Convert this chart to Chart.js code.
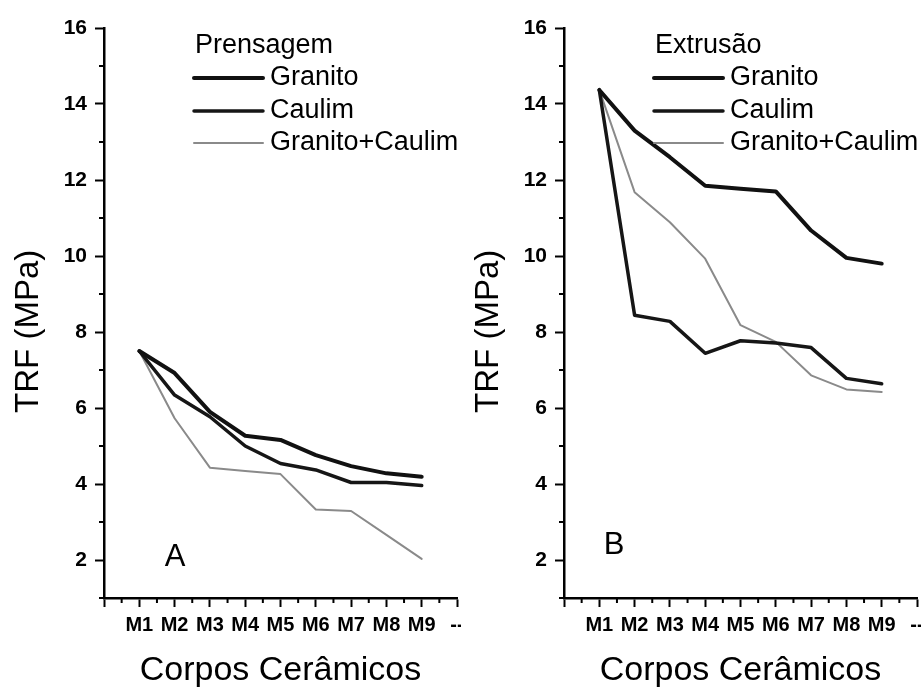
<!DOCTYPE html>
<html>
<head>
<meta charset="utf-8">
<script src="https://cdn.jsdelivr.net/npm/chart.js@4.4.0/dist/chart.umd.min.js"></script>
<style>
  body { margin: 0; background: #fff; overflow: hidden; }
  #painelA, #painelB { position: absolute; top: 0; }
  #painelA { left: 0; }
  #painelB { left: 460px; }
</style>
</head>
<body>
<canvas id="painelA" width="461" height="689"></canvas>
<canvas id="painelB" width="461" height="689"></canvas>
<script>
var categorias = ["", "M1", "M2", "M3", "M4", "M5", "M6", "M7", "M8", "M9", "--"];
var ticksY = [2, 4, 6, 8, 10, 12, 14, 16];

// Prensagem
var granitoPrensagem = [7.5, 6.92, 5.9, 5.27, 5.16, 4.76, 4.47, 4.28, 4.19];
var caulimPrensagem = [7.5, 6.34, 5.77, 5.0, 4.54, 4.37, 4.04, 4.04, 3.96];
var misturaPrensagem = [7.5, 5.73, 4.43, 4.34, 4.26, 3.33, 3.29, 2.66, 2.03];

// Extrusão
var granitoExtrusao = [14.37, 13.3, 12.6, 11.85, 11.77, 11.7, 10.67, 9.95, 9.8];
var caulimExtrusao = [14.37, 8.44, 8.28, 7.44, 7.77, 7.71, 7.59, 6.78, 6.64];
var misturaExtrusao = [14.37, 11.68, 10.89, 9.93, 8.18, 7.74, 6.86, 6.49, 6.42];

Chart.defaults.font.family = 'Arial, "Liberation Sans", sans-serif';
Chart.defaults.color = "#000";

function pontos(valores) {
  // M1 fica na posição 1 do eixo x
  return valores.map(function (v, i) {
    return { x: i + 1, y: v };
  });
}

var ticksMenores = {
  id: "ticksMenores",
  afterDraw(chart) {
    const { ctx, chartArea, scales } = chart;
    ctx.save();
    ctx.strokeStyle = "#000";
    ctx.lineWidth = 2;
    ctx.beginPath();
    for (let v = 0.5; v < categorias.length - 1; v++) {
      let px = scales.x.getPixelForValue(v);
      ctx.moveTo(px, chartArea.bottom);
      ctx.lineTo(px, chartArea.bottom + 5);
    }
    for (let v = 1; v < 16; v += 2) {
      let py = scales.y.getPixelForValue(v);
      ctx.moveTo(chartArea.left - 5, py);
      ctx.lineTo(chartArea.left, py);
    }
    ctx.stroke();
    ctx.restore();
  },
};

var legendaPainel = {
  id: "legendaPainel",
  afterDraw(chart, args, opts) {
    const ctx = chart.ctx;
    ctx.save();
    ctx.fillStyle = "#000";
    ctx.textBaseline = "middle";
    ctx.textAlign = "left";
    ctx.font = '27px Arial, "Liberation Sans", sans-serif';
    ctx.fillText(opts.titulo, 195, 46);
    chart.data.datasets.forEach(function (ds, i) {
      let y = opts.linhas[i];
      ctx.strokeStyle = ds.borderColor;
      ctx.lineWidth = ds.borderWidth;
      ctx.lineCap = "round";
      ctx.beginPath();
      ctx.moveTo(194, y);
      ctx.lineTo(263, y);
      ctx.stroke();
      ctx.fillText(ds.label, 270, y);
    });
    ctx.textAlign = "center";
    ctx.font = '31px Arial, "Liberation Sans", sans-serif';
    ctx.fillText(opts.letra, opts.letraX, opts.letraY);
    ctx.restore();
  },
};

function criarGrafico(idCanvas, granito, caulim, mistura, legenda) {
  const config = {
    type: "line",
    data: {
      datasets: [
        {
          label: "Granito",
          data: pontos(granito),
          borderColor: "#111",
          borderWidth: 4,
        },
        {
          label: "Caulim",
          data: pontos(caulim),
          borderColor: "#161616",
          borderWidth: 3.5,
        },
        {
          label: "Granito+Caulim",
          data: pontos(mistura),
          borderColor: "#8a8a8a",
          borderWidth: 2,
        },
      ],
    },
    options: {
      responsive: false,
      animation: false,
      events: [],
      layout: {
        padding: { left: 0, top: 28, right: 4, bottom: 0 },
      },
      elements: {
        point: { radius: 0 },
        line: { tension: 0, borderJoinStyle: "round", borderCapStyle: "round" },
      },
      plugins: {
        legend: { display: false },
        tooltip: { enabled: false },
        legendaPainel: legenda,
      },
      scales: {
        x: {
          type: "linear",
          min: 0,
          max: categorias.length - 1,
          afterBuildTicks: function (eixo) {
            eixo.ticks = categorias.map(function (c, i) {
              return { value: i };
            });
          },
          afterFit: function (eixo) {
            eixo.height = 91;
            eixo.paddingLeft = 0;
            eixo.paddingRight = 0;
          },
          ticks: {
            autoSkip: false,
            maxRotation: 0,
            padding: 6,
            font: { size: 20, weight: "bold" },
            callback: function (valor, indice) {
              return categorias[indice];
            },
          },
          grid: {
            drawOnChartArea: false,
            tickLength: 9,
            tickWidth: 2,
            color: "#000",
          },
          border: { display: true, color: "#000", width: 2.5 },
          title: {
            display: true,
            text: "Corpos Cerâmicos",
            font: { size: 34, lineHeight: 1 },
            padding: { top: 0, bottom: 1 },
          },
        },
        y: {
          min: 1,
          max: 16,
          afterBuildTicks: function (eixo) {
            eixo.ticks = ticksY.map(function (v) {
              return { value: v };
            });
          },
          afterFit: function (eixo) {
            eixo.width = 104;
          },
          ticks: {
            padding: 8,
            font: { size: 21, weight: "bold" },
          },
          grid: {
            drawOnChartArea: false,
            tickLength: 9,
            tickWidth: 2,
            color: "#000",
          },
          border: { display: true, color: "#000", width: 2.5 },
          title: {
            display: true,
            text: "TRF (MPa)    ",
            font: { size: 33, lineHeight: 1 },
            padding: { top: 12, bottom: 0 },
          },
        },
      },
    },
    plugins: [ticksMenores, legendaPainel],
  };

  return new Chart(document.getElementById(idCanvas), config);
}

criarGrafico("painelA", granitoPrensagem, caulimPrensagem, misturaPrensagem, {
  titulo: "Prensagem",
  linhas: [78, 111, 143],
  letra: "A",
  letraX: 175,
  letraY: 557,
});

criarGrafico("painelB", granitoExtrusao, caulimExtrusao, misturaExtrusao, {
  titulo: "Extrusão",
  linhas: [78, 111, 143],
  letra: "B",
  letraX: 154,
  letraY: 545,
});
</script>
</body>
</html>
